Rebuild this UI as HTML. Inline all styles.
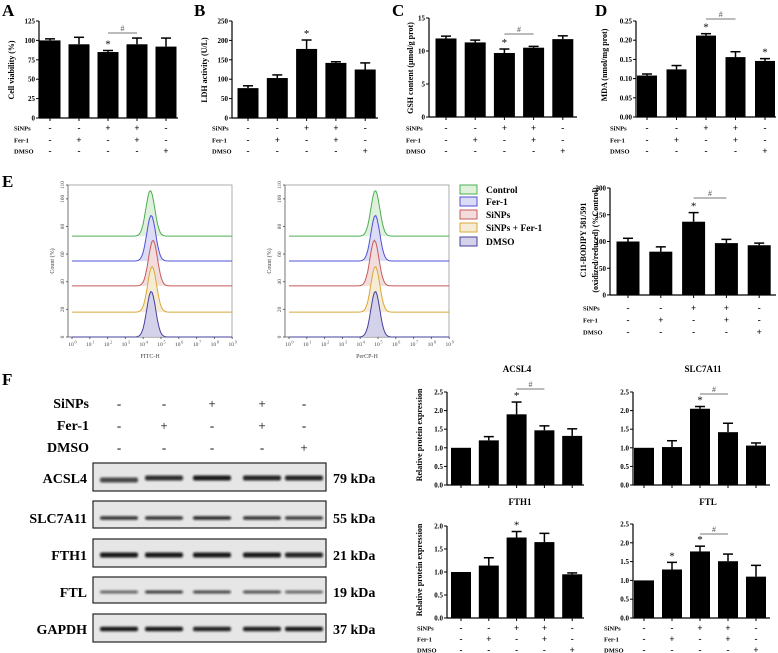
<!DOCTYPE html>
<html><head><meta charset="utf-8"><style>
html,body{margin:0;padding:0;background:#fff;}
svg{display:block;font-family:"Liberation Serif",serif;}
</style></head><body>
<svg id="fig" width="778" height="653" viewBox="0 0 778 653" xmlns="http://www.w3.org/2000/svg">
<defs><filter id="blur" x="-20%" y="-100%" width="140%" height="300%"><feGaussianBlur stdDeviation="1.1"/></filter></defs>
</svg>
<script>
// ---- data ----
const groups = ["Control","Fer-1","SiNPs","SiNPs + Fer-1","DMSO"];
const rowSiNPs = ["-","-","+","+","-"];
const rowFer1 = ["-","+","-","+","-"];
const rowDMSO = ["-","-","-","-","+"];
const aVals = [100,95,85,95,92];
const aErrs = [2,9,2,8,11];
const aTicks = [0,25,50,75,100,125];
const bVals = [77,103,178,142,125];
const bErrs = [6,8,23,3,17];
const bTicks = [0,50,100,150,200,250];
const cVals = [11.9,11.3,9.7,10.5,11.8];
const cErrs = [0.35,0.35,0.6,0.2,0.5];
const cTicks = [0,5,10,15];
const dVals = [0.108,0.124,0.212,0.156,0.146];
const dErrs = [0.004,0.01,0.005,0.014,0.006];
const dTicks = [0,0.05,0.10,0.15,0.20,0.25];
const eVals = [100,81,137,97,93];
const eErrs = [6,9,17,7,4];
const eTicks = [0,50,100,150,200];
const acslVals = [1.0,1.2,1.9,1.47,1.32];
const acslErrs = [0,0.1,0.33,0.12,0.19];
const slcVals = [1.0,1.02,2.05,1.42,1.06];
const slcErrs = [0,0.17,0.06,0.24,0.07];
const fth1Vals = [1.0,1.14,1.75,1.65,0.95];
const fth1Errs = [0,0.17,0.13,0.19,0.03];
const ftlVals = [1.0,1.29,1.77,1.51,1.1];
const ftlErrs = [0,0.19,0.14,0.19,0.3];
const relTicks25 = [0,0.5,1.0,1.5,2.0,2.5];
const relTicks20 = [0,0.5,1.0,1.5,2.0];
const histBase = [73,55,37,18,0];
const histPeak = [106,88,70,51,33];
const hist1Pos = [4.4,4.45,4.55,4.5,4.45];
const hist2Pos = [4.85,4.85,4.8,4.85,4.85];
const histTicks = [0,20,40,60,80,100,110];
const logTicks = [0,1,2,3,4,5,6,7,8,9];
const bandProteins = ["ACSL4","SLC7A11","FTH1","FTL","GAPDH"];
const bandKDa = ["79 kDa","55 kDa","21 kDa","19 kDa","37 kDa"];
const bandIntensity = [
 [0.75,0.85,0.95,0.9,0.9],
 [0.85,0.85,0.9,0.85,0.8],
 [0.95,0.95,0.95,0.95,0.9],
 [0.6,0.8,0.75,0.7,0.6],
 [0.95,0.95,0.9,0.92,0.95]];

// ---- helpers ----
const NS="http://www.w3.org/2000/svg";
const svg=document.getElementById('fig');
function el(tag,attrs,parent){const e=document.createElementNS(NS,tag);for(const k in attrs)e.setAttribute(k,attrs[k]);(parent||svg).appendChild(e);return e;}
function txt(s,x,y,size,attrs,parent){const t=el('text',Object.assign({x:x,y:y,'font-size':size},attrs||{}),parent);t.textContent=s;return t;}

function barChart(o){
  const g=el('g',{});
  
  
  const ys=v=>o.y0-(v/o.max)*(o.y0-o.yTop);
  const xs=i=>o.c0+i*o.sp;
  const ax=el('line',{x1:o.x0,y1:o.yTop,x2:o.x0,y2:o.y0,stroke:'#000','stroke-width':1.2},g);
  
  
  const bx=el('line',{x1:o.x0,y1:o.y0,x2:o.xEnd,y2:o.y0,stroke:'#000','stroke-width':1.2},g);
  
  
  o.ticks.forEach(t=>{
    el('line',{x1:o.x0-3,y1:ys(t),x2:o.x0,y2:ys(t),stroke:'#000','stroke-width':1},g);
    const tl=txt(o.fmt(t),o.x0-4,ys(t)+2.5,7,{'text-anchor':'end','font-weight':'bold'},g);
    
    
  });
  o.vals.forEach((v,i)=>{
    const x=xs(i);
    el('line',{x1:x,y1:o.y0,x2:x,y2:o.y0+3,stroke:'#000','stroke-width':1},g);
    const b=el('rect',{x:x-o.bw/2,y:ys(v),width:o.bw,height:o.y0-ys(v),fill:'#000'},g);
    
    
    const e=o.errs[i];
    if(e>0){
      el('line',{x1:x,y1:ys(v),x2:x,y2:ys(v+e),stroke:'#000','stroke-width':1.5},g);
      el('line',{x1:x-5,y1:ys(v+e),x2:x+5,y2:ys(v+e),stroke:'#000','stroke-width':1.5},g);
    }
    if(o.stars&&o.stars.includes(i)){
      const s=txt('*',x,ys(v+e)-3,11,{'text-anchor':'middle'},g);
      
      
    }
  });
  if(o.hash){
    const [i,j,y]=o.hash;
    el('line',{x1:xs(i),y1:y,x2:xs(j),y2:y,stroke:'#777','stroke-width':1},g);
    const h=txt('#',(xs(i)+xs(j))/2,y-2,8,{'text-anchor':'middle',fill:'#555'},g);
    
    
  }
  if(o.rows){
    const names=['SiNPs','Fer-1','DMSO'], rows=[rowSiNPs,rowFer1,rowDMSO];
    rows.forEach((r,k)=>{
      const y=o.rows[k];
      const l=txt(names[k],o.rowX,y+2.5,6.5,{'font-weight':'bold'},g);
      
      
      r.forEach((s,i)=>{txt(s,xs(i),y+3,9,{'text-anchor':'middle','font-weight':'bold'},g);});
    });
  }
  if(o.ylabel){
    o.ylabel.forEach((lab,k)=>{
      const yl=txt(lab,0,0,o.ylSize||8,{'text-anchor':'middle','font-weight':'bold',transform:`translate(${o.ylX[k]},${o.ylY}) rotate(-90)`},g);
      
      
    });
  }
  if(o.title){
    const tt=txt(o.title,o.titleX,o.titleY,9,{'text-anchor':'middle','font-weight':'bold'},g);
    
    
  }
}
function panelLabel(s,x,y){const t=txt(s,x,y,17,{'font-weight':'bold'});}

panelLabel('A',2,16);panelLabel('B',194,16);panelLabel('C',392,16);panelLabel('D',595,16);
panelLabel('E',2,187);panelLabel('F',2,385);

const f0=t=>String(t), f2=t=>t.toFixed(2), f1=t=>t.toFixed(1);
const topRows=[128,140,151];
barChart({name:'chart-a-cell-viability',x0:39,xEnd:178,yTop:21,y0:118,max:125,ticks:aTicks,fmt:f0,c0:50,sp:29,bw:21,vals:aVals,errs:aErrs,stars:[2],hash:[2,3,33],rows:topRows,rowX:14,ylabel:['Cell viability (%)'],ylX:[14],ylY:70});
barChart({name:'chart-b-ldh',x0:232,xEnd:378,yTop:21,y0:118,max:250,ticks:bTicks,fmt:f0,c0:248,sp:29.3,bw:21,vals:bVals,errs:bErrs,stars:[2],rows:topRows,rowX:212,ylabel:['LDH activity (U/L)'],ylX:[207],ylY:70});
barChart({name:'chart-c-gsh',x0:429,xEnd:577,yTop:18,y0:117,max:15,ticks:cTicks,fmt:f0,c0:446,sp:29.2,bw:21,vals:cVals,errs:cErrs,stars:[2],hash:[2,3,34],rows:topRows,rowX:406,ylabel:['GSH content (μmol/g prot)'],ylX:[413],ylY:68});
barChart({name:'chart-d-mda',x0:636,xEnd:776,yTop:21,y0:117,max:0.25,ticks:dTicks,fmt:f2,c0:647,sp:29.5,bw:20,vals:dVals,errs:dErrs,stars:[2,4],hash:[2,3,19],rows:topRows,rowX:610,ylabel:['MDA (nmol/mg prot)'],ylX:[607],ylY:65});
barChart({name:'chart-e-c11-bodipy',x0:610,xEnd:776,yTop:188,y0:295,max:200,ticks:eTicks,fmt:f0,c0:628,sp:32.8,bw:23,vals:eVals,errs:eErrs,stars:[2],hash:[2,3,198],rows:[308,320,332],rowX:583,ylabel:['C11-BODIPY 581/591','(oxidized/reduced) (%Control)'],ylX:[586,598],ylY:240,ylSize:8});
barChart({name:'chart-acsl4',x0:447,xEnd:584,yTop:392,y0:485,max:2.5,ticks:relTicks25,fmt:f1,c0:461,sp:27.8,bw:20,vals:acslVals,errs:acslErrs,stars:[2],hash:[2,3,389],ylabel:['Relative protein expression'],ylX:[422],ylY:435,title:'ACSL4',titleX:517,titleY:372});
barChart({name:'chart-slc7a11',x0:633,xEnd:770,yTop:392,y0:485,max:2.5,ticks:relTicks25,fmt:f1,c0:644,sp:28,bw:20,vals:slcVals,errs:slcErrs,stars:[2],hash:[2,3,394],title:'SLC7A11',titleX:703,titleY:372});
barChart({name:'chart-fth1',x0:447,xEnd:584,yTop:526,y0:618,max:2.0,ticks:relTicks20,fmt:f1,c0:461,sp:27.8,bw:20,vals:fth1Vals,errs:fth1Errs,stars:[2],rows:[628,639,650],rowX:417,ylabel:['Relative protein expression'],ylX:[422],ylY:570,title:'FTH1',titleX:520,titleY:505});
barChart({name:'chart-ftl',x0:633,xEnd:770,yTop:524,y0:618,max:2.5,ticks:relTicks25,fmt:f1,c0:644,sp:28,bw:20,vals:ftlVals,errs:ftlErrs,stars:[1,2],hash:[2,3,534],rows:[628,639,650],rowX:604,title:'FTL',titleX:708,titleY:505});

// ---- histograms ----
const colors=['#4caf50','#5050d8','#c85a5a','#d8a838','#45409a'];
const fills=['#dff0dd','#dcdcf6','#f3dcdc','#f6ecd6','#d4d2ea'];
function histogram(name,x0,pos,xlabel){
  const g=el('g',{});
  
  
  const y0=337, yTop=185, xEnd=232+(x0-68);
  const ys=v=>y0-v*(y0-yTop)/110;
  const xs=l=>x0+4+l*17.8;
  el('rect',{x:x0,y:yTop,width:xEnd-x0,height:y0-yTop,fill:'none',stroke:'#999','stroke-width':0.8},g);
  el('line',{x1:x0,y1:yTop,x2:x0,y2:y0,stroke:'#666','stroke-width':0.8},g);
  el('line',{x1:x0,y1:y0,x2:xEnd,y2:y0,stroke:'#666','stroke-width':0.8},g);
  histTicks.forEach(t=>{
    el('line',{x1:x0-2,y1:ys(t),x2:x0,y2:ys(t),stroke:'#666'},g);
    txt(String(t),0,0,5.5,{'text-anchor':'middle',fill:'#444',transform:`translate(${x0-4},${ys(t)}) rotate(-90)`},g);
  });
  logTicks.forEach(k=>{
    el('line',{x1:xs(k),y1:y0,x2:xs(k),y2:y0+2,stroke:'#666'},g);
    txt('10',xs(k)-1,y0+9,5.5,{'text-anchor':'middle',fill:'#444'},g);
    txt(String(k),xs(k)+3.5,y0+6.5,4,{'text-anchor':'middle',fill:'#444'},g);
  });
  const yl=txt('Count (%)',0,0,6,{'text-anchor':'middle',fill:'#444',transform:`translate(${x0-14},261) rotate(-90)`},g);
  
  
  const xl=txt(xlabel,(x0+xEnd)/2,358,6,{'text-anchor':'middle',fill:'#444'},g);
  
  
  const sg=0.25;
  for(let s=0;s<5;s++){
    let d='';
    const n=120;
    for(let i=0;i<=n;i++){
      const l=i*9/n;
      const v=histBase[s]+(histPeak[s]-histBase[s])*Math.exp(-Math.pow(l-pos[s],2)/(2*sg*sg));
      d+=(i?'L':'M')+xs(l).toFixed(1)+','+ys(v).toFixed(1);
    }
    const ps=pos[s];
    let df='M'+xs(ps-0.9)+','+ys(histBase[s]);
    for(let i=0;i<=40;i++){const l=ps-0.9+i*1.8/40;const v=histBase[s]+(histPeak[s]-histBase[s])*Math.exp(-Math.pow(l-ps,2)/(2*sg*sg));df+='L'+xs(l).toFixed(1)+','+ys(v).toFixed(1);}
    df+='Z';
    el('path',{d:df,fill:fills[s],stroke:'none'},g);
    const p=el('path',{d:d,fill:'none',stroke:colors[s],'stroke-width':1},g);
    
    
  }
}
histogram('histogram-fitc',68,hist1Pos,'FITC-H');
histogram('histogram-percp',285,hist2Pos,'PerCP-H');
const lgY=[190,202,215,228,242];
groups.forEach((gname,i)=>{
  const r=el('rect',{x:460,y:lgY[i]-5,width:17,height:9,fill:fills[i],stroke:colors[i],'stroke-width':1});
  
  
  const t=txt(gname,486,lgY[i]+3,9.5,{'font-weight':'bold'});
  
  
});

// ---- western blot ----
const laneX=[119,164,212,262,304];
const wbRowNames=['SiNPs','Fer-1','DMSO'], wbRowY=[403,425,447], wbRows=[rowSiNPs,rowFer1,rowDMSO];
wbRows.forEach((r,k)=>{
  const l=txt(wbRowNames[k],89,wbRowY[k]+5,14,{'text-anchor':'end','font-weight':'bold'});
  
  
  r.forEach((s,i)=>txt(s,laneX[i],wbRowY[k]+5,13,{'text-anchor':'middle'}));
});
const boxY=[[463,491],[501,528],[539,567],[577,603],[614,642]];
const bandY=[478,518,555,592,629];
const bandH=[5,3.5,5,3,4.5];
bandProteins.forEach((p,k)=>{
  const g=el('g',{});
  
  
  el('rect',{x:93,y:boxY[k][0],width:233,height:boxY[k][1]-boxY[k][0],fill:'#e6e6e6',stroke:'#222','stroke-width':1.2},g);
  laneX.forEach((x,i)=>{
    const a=bandIntensity[k][i];
    el('rect',{x:x-19,y:bandY[k]-bandH[k]/2+(k===0&&i===0?2:0),width:38,height:bandH[k],rx:2,fill:'#111','fill-opacity':a,filter:'url(#blur)'},g);
  });
  const l=txt(p,87,bandY[k]+5,14,{'text-anchor':'end','font-weight':'bold'},g);
  
  
  const kd=txt(bandKDa[k],333,bandY[k]+5,14,{'font-weight':'bold'},g);
  
  
});
</script>
</body></html>
